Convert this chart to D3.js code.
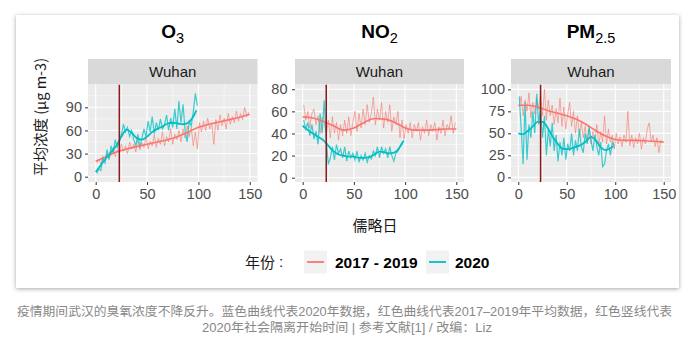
<!DOCTYPE html>
<html><head><meta charset="utf-8">
<script src="https://cdn.jsdelivr.net/npm/d3@7"></script>
<style>body{margin:0;background:#fff}svg{display:block}</style>
</head><body>
<svg id="c" width="693" height="347"></svg>
<script>
// ---------- data ----------
const panelTitles = ["O", "NO", "PM"];
const panelSubs = ["3", "2", "2.5"];
const stripLabel = "Wuhan";
const xTicks = [0, 50, 100, 150];
const o3Ticks = [0, 30, 60, 90];
const no2Ticks = [0, 20, 40, 60, 80];
const pmTicks = [0, 25, 50, 75, 100];
const lockdownDay = 23;
const seriesNames = ["2017 - 2019", "2020"];

// raw daily series (every 2nd day)
const redDays = d3.range(1, 150, 2);   // days 1..149
const tealDays = d3.range(1, 100, 2);  // days 1..99
const o3Red = [18,22,17,25,20,30,24,28,38,26,35,30,42,33,40,30,45,36,42,32,48,35,44,38,52,36,46,40,55,38,50,42,58,40,52,45,62,42,55,48,60,45,62,50,66,52,64,40,58,36,70,58,72,60,76,62,70,42,74,60,80,66,76,62,82,68,78,70,85,72,82,74,90,78,84];
const o3Teal = [4,10,8,25,18,35,22,40,30,48,38,46,55,68,58,64,52,60,48,40,55,38,50,62,52,72,58,78,56,70,60,75,62,68,80,60,76,64,88,62,98,70,94,60,45,72,66,84,108,92];
const no2Red = [66,52,60,45,58,62,48,56,40,55,50,38,52,36,55,40,50,34,48,38,52,40,55,38,50,60,42,58,45,62,48,66,50,58,73,48,62,52,68,45,60,50,66,42,55,48,60,36,52,35,48,40,50,36,48,42,50,34,46,40,52,38,48,42,50,34,46,40,52,38,48,44,56,40,50];
const no2Teal = [52,44,50,38,48,35,42,30,58,40,70,35,12,18,28,16,30,22,26,18,28,15,24,18,22,16,24,14,20,16,22,14,20,17,24,20,28,18,28,22,26,18,28,20,15,22,24,28,30,34];
const pmRed = [80,92,70,88,75,96,68,85,72,90,78,95,70,100,65,88,70,82,60,78,62,90,58,80,55,72,85,58,75,50,70,48,62,45,58,40,55,38,52,42,60,35,52,40,70,38,55,40,48,32,50,38,46,35,48,40,75,36,48,34,45,38,50,32,45,38,55,62,40,48,35,45,28,42,40];
const pmTeal = [92,55,15,85,20,60,45,75,50,95,60,80,45,70,25,55,35,62,30,48,18,40,25,45,20,38,30,50,25,42,30,55,35,28,50,38,58,42,30,48,35,25,40,12,15,30,38,25,40,35];

// smoothed (loess) curves
const redSmoothDays = d3.range(0, 151, 10);
const tealSmoothDays = [0,5,10,15,20,25,30,35,40,45,50,55,60,65,70,75,80,85,90,95,98];
const o3RedSmooth = [20,26,32,36,39,42,45,48,52,58,64,68,71,74,77,81];
const o3TealSmooth = [6,15,24,32,40,52,61,57,50,48,52,58,62,65,69,70,69,68,70,78,86];
const no2RedSmooth = [55,54,51,47,43,45,50,53.5,53,50,45,43,43,43.5,44,44];
const no2TealSmooth = [47,43,40,37,34,29,24,21,20,19,19,18,18,18.5,21,23.5,23,22,23,28,33];
const pmRedSmooth = [82,82,80,76,73,70,66,60,53,47,43,42,42,41.5,41,40];
const pmTealSmooth = [50,49,53,58,63,63,57,47,39,33,32,33,35,37,41,46,42,34,31,33,35];

// ---------- layout ----------
const RED = "#F8766D", TEAL = "#00BFC4", VLINE = "#8B1A1A";
const svg = d3.select("#c");
const defs = svg.append("defs");
const f = defs.append("filter").attr("id","sh").attr("x","-5%").attr("y","-5%").attr("width","110%").attr("height","110%");
f.append("feDropShadow").attr("dx",0).attr("dy",1).attr("stdDeviation",2).attr("flood-color","#000").attr("flood-opacity",0.35);
svg.append("rect").attr("x",16).attr("y",15).attr("width",663).attr("height",273).attr("fill","#fff").attr("filter","url(#sh)");

const panels = [
  {l:88, r:257.5, yd:[-6.9,119.6], ticks:o3Ticks, red:o3Red, teal:o3Teal, rs:o3RedSmooth, ts:o3TealSmooth, pad:3},
  {l:295, r:464, yd:[-3.9,84.3], ticks:no2Ticks, red:no2Red, teal:no2Teal, rs:no2RedSmooth, ts:no2TealSmooth, pad:4.5},
  {l:511, r:671, yd:[-5.3,105.5], ticks:pmTicks, red:pmRed, teal:pmTeal, rs:pmRedSmooth, ts:pmTealSmooth, pad:3}
];
const pTop = 84.5, pBottom = 182, stripTop = 59;
const FONT = "'Liberation Sans', Arial, sans-serif";
const CJK = "'Noto Sans CJK SC', sans-serif";
const CAP = "'Liberation Sans', 'Noto Sans CJK SC', sans-serif";

panels.forEach((p, i) => {
  const x = d3.scaleLinear().domain([-7.5, 157.5]).range([p.l, p.r]);
  const y = d3.scaleLinear().domain(p.yd).range([pBottom, pTop]);
  const g = svg.append("g");
  // title
  const t = g.append("text").attr("x", (p.l + p.r)/2).attr("y", 37.7).attr("text-anchor","middle")
    .attr("font-family", FONT).attr("fill","#000");
  t.append("tspan").attr("font-weight","bold").attr("font-size",19).text(panelTitles[i]);
  t.append("tspan").attr("font-size",14.5).attr("dy",4.8).text(panelSubs[i]);
  // strip
  g.append("rect").attr("x",p.l).attr("y",stripTop).attr("width",p.r-p.l).attr("height",pTop-stripTop).attr("fill","#d9d9d9");
  g.append("text").attr("x",(p.l+p.r)/2).attr("y",77).attr("text-anchor","middle").attr("font-family",FONT)
    .attr("font-size",15).attr("fill","#1a1a1a").text(stripLabel);
  // panel
  g.append("rect").attr("x",p.l).attr("y",pTop).attr("width",p.r-p.l).attr("height",pBottom-pTop).attr("fill","#ebebeb");
  const step = p.ticks[1]-p.ticks[0];
  const minorY = p.ticks.map(v=>v+step/2).filter(v=>v>p.yd[0]&&v<p.yd[1]);
  const minorX = [25,75,125];
  g.selectAll(".mny").data(minorY).join("line").attr("x1",p.l).attr("x2",p.r).attr("y1",d=>y(d)).attr("y2",d=>y(d)).attr("stroke","#fff").attr("stroke-width",0.5);
  g.selectAll(".mnx").data(minorX).join("line").attr("y1",pTop).attr("y2",pBottom).attr("x1",d=>x(d)).attr("x2",d=>x(d)).attr("stroke","#fff").attr("stroke-width",0.5);
  g.selectAll(".mjy").data(p.ticks).join("line").attr("x1",p.l).attr("x2",p.r).attr("y1",d=>y(d)).attr("y2",d=>y(d)).attr("stroke","#fff").attr("stroke-width",1.1);
  g.selectAll(".mjx").data(xTicks).join("line").attr("y1",pTop).attr("y2",pBottom).attr("x1",d=>x(d)).attr("x2",d=>x(d)).attr("stroke","#fff").attr("stroke-width",1.1);
  // lines
  const clip = "clip"+i;
  defs.append("clipPath").attr("id",clip).append("rect").attr("x",p.l).attr("y",pTop).attr("width",p.r-p.l).attr("height",pBottom-pTop);
  const pl = g.append("g").attr("clip-path",`url(#${clip})`);
  const line = d3.line().x(d=>x(d[0])).y(d=>y(d[1]));
  const sline = d3.line().x(d=>x(d[0])).y(d=>y(d[1])).curve(d3.curveMonotoneX);
  pl.append("path").attr("d", line(redDays.map((d,k)=>[d,p.red[k]]))).attr("fill","none").attr("stroke",RED).attr("stroke-opacity",0.6).attr("stroke-width",1);
  pl.append("path").attr("d", line(tealDays.map((d,k)=>[d,p.teal[k]]))).attr("fill","none").attr("stroke",TEAL).attr("stroke-opacity",0.75).attr("stroke-width",1.2);
  pl.append("path").attr("d", sline(redSmoothDays.map((d,k)=>[d,p.rs[k]]))).attr("fill","none").attr("stroke",RED).attr("stroke-width",1.6);
  pl.append("path").attr("d", sline(tealSmoothDays.map((d,k)=>[d,p.ts[k]]))).attr("fill","none").attr("stroke",TEAL).attr("stroke-width",1.8);
  pl.append("line").attr("x1",x(lockdownDay)).attr("x2",x(lockdownDay)).attr("y1",pTop).attr("y2",pBottom).attr("stroke",VLINE).attr("stroke-width",1.5);
  // axes
  const ax = g.append("g").attr("transform",`translate(0,${pBottom})`).call(d3.axisBottom(x).tickValues(xTicks).tickSize(3).tickPadding(4));
  const ay = g.append("g").attr("transform",`translate(${p.l},0)`).call(d3.axisLeft(y).tickValues(p.ticks).tickSize(3).tickPadding(p.pad));
  [ax, ay].forEach(a=>{
    a.select(".domain").remove();
    a.selectAll("line").attr("stroke","#333");
    a.selectAll("text").attr("fill","#4d4d4d").attr("font-size",14.5).attr("font-family",FONT);
  });
});

// y title
svg.append("text").attr("transform","translate(46,117) rotate(-90)").attr("text-anchor","middle")
  .attr("font-family",CJK).attr("font-size",14.5).attr("fill","#1a1a1a").text("平均浓度 (μg m-3)");
// x title
svg.append("text").attr("x",375).attr("y",231).attr("text-anchor","middle").attr("font-family",CJK)
  .attr("font-size",15).attr("fill","#1a1a1a").text("儒略日");

// legend
svg.append("text").attr("x",245).attr("y",267.5).attr("font-family",CJK).attr("font-size",15).attr("fill","#1a1a1a").text("年份");
svg.append("text").attr("x",279).attr("y",267).attr("font-family",FONT).attr("font-size",15).attr("fill","#1a1a1a").text(":");
const legX = [304, 426], legTX = [335, 455], legC = [RED, TEAL];
seriesNames.forEach((n,k)=>{
  svg.append("rect").attr("x",legX[k]).attr("y",250.5).attr("width",23).attr("height",23).attr("fill","#f2f2f2");
  svg.append("line").attr("x1",legX[k]+3).attr("x2",legX[k]+20).attr("y1",262).attr("y2",262).attr("stroke",legC[k]).attr("stroke-width",1.8);
  svg.append("text").attr("x",legTX[k]).attr("y",267.5).attr("font-family",FONT).attr("font-weight","bold")
    .attr("font-size",15.5).attr("fill","#000").text(n);
});

// caption
svg.append("text").attr("x",344.5).attr("y",315.5).attr("text-anchor","middle").attr("font-family",CAP)
  .attr("font-size",12.5).attr("fill","#888").attr("textLength",655).attr("lengthAdjust","spacingAndGlyphs")
  .text("疫情期间武汉的臭氧浓度不降反升。蓝色曲线代表2020年数据，红色曲线代表2017–2019年平均数据，红色竖线代表");
svg.append("text").attr("x",347).attr("y",332).attr("text-anchor","middle").attr("font-family",CAP)
  .attr("font-size",12.5).attr("fill","#888").attr("textLength",290).attr("lengthAdjust","spacingAndGlyphs")
  .text("2020年社会隔离开始时间 | 参考文献[1] / 改编：Liz");
</script>
</body></html>
